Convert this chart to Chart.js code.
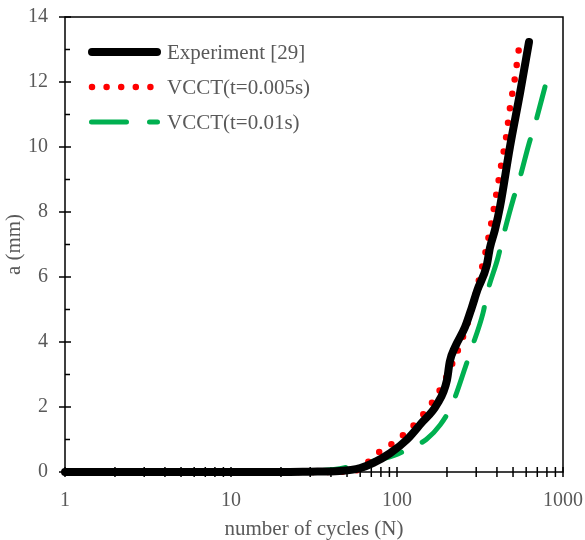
<!DOCTYPE html>
<html>
<head>
<meta charset="utf-8">
<script src="https://cdn.jsdelivr.net/npm/chart.js@4"></script>
<style>
  html, body { margin: 0; padding: 0; background: #fff; }
  #wrap { width: 585px; height: 540px; }
</style>
</head>
<body>
<div id="wrap"><canvas id="c"></canvas></div>
<script>
// experiment [29]
const expN = [1, 10, 20, 30, 45, 60, 72, 91, 115, 140, 174, 200, 208, 224, 257, 283, 305, 347, 363, 389, 417, 479, 551, 624];
const expA = [0, 0, 0, 0.01, 0.03, 0.12, 0.28, 0.58, 1.0, 1.5, 2.08, 2.83, 3.4, 3.85, 4.46, 5.08, 5.6, 6.35, 6.9, 7.45, 8.15, 10.0, 11.66, 13.23];

// VCCT t=0.005s
const v1N = [1, 5, 10, 20, 40, 51, 62, 72, 86, 101, 118, 136, 156, 174, 192, 211, 246, 279, 308, 339, 368, 395, 423, 454, 479, 514, 543];
const v1A = [0, 0, 0, 0, 0, 0.02, 0.13, 0.49, 0.74, 1.0, 1.29, 1.63, 2.0, 2.37, 2.77, 3.23, 4.06, 4.92, 5.8, 6.7, 7.6, 8.5, 9.4, 10.3, 11.2, 12.15, 13.05];

// VCCT t=0.01s
const v2N = [1, 10, 20, 30, 45, 57, 97, 123, 150, 182, 214, 257, 279, 330, 349, 406, 435, 500, 543, 624, 678, 779];
const v2A = [0, 0, 0, 0.02, 0.1, 0.22, 0.52, 0.77, 1.0, 1.45, 2.06, 3.2, 3.75, 4.9, 5.5, 6.6, 7.23, 8.37, 8.95, 10.1, 10.7, 11.85];

const seriesNames = ['Experiment [29]', 'VCCT(t=0.005s)', 'VCCT(t=0.01s)'];
const xLabelTicks = [1, 10, 100, 1000];
const yTicks = [0, 2, 4, 6, 8, 10, 12, 14];

const pts = (xs, ys) => xs.map((v, i) => ({ x: v, y: ys[i] }));
const FONT = "'Liberation Serif', 'Times New Roman', serif";
const GREY = '#595959';

// axis frame and tick marks (crossing / inward like Excel)
const axisTicks = {
  id: 'axisTicks',
  beforeDatasetsDraw(chart) {
    const { ctx, chartArea: a, scales: { x, y } } = chart;
    ctx.save();
    ctx.strokeStyle = '#000';
    ctx.lineWidth = 1.5;
    ctx.strokeRect(a.left, a.top, a.right - a.left, a.bottom - a.top);
    ctx.beginPath();
    yTicks.forEach(v => {
      const p = y.getPixelForValue(v);
      ctx.moveTo(a.left - 6, p); ctx.lineTo(a.left + 6, p);
      if (v < 14) {
        const q = y.getPixelForValue(v + 1);
        ctx.moveTo(a.left, q); ctx.lineTo(a.left + 5, q);
      }
    });
    for (let d = 1; d < 1000; d *= 10) {
      for (let k = 1; k <= 10; k++) {
        const p = x.getPixelForValue(d * k);
        ctx.moveTo(p, a.bottom - 5); ctx.lineTo(p, a.bottom + 5);
      }
    }
    ctx.stroke();
    ctx.restore();
  }
};

// legend inside the plot
const innerLegend = {
  id: 'innerLegend',
  afterDraw(chart) {
    const { ctx } = chart;
    const rows = [52, 87, 122];
    ctx.save();
    ctx.lineCap = 'round';
    chart.data.datasets.forEach((ds, i) => {
      const yy = rows[i];
      ctx.beginPath();
      ctx.strokeStyle = ds.borderColor;
      ctx.lineWidth = ds.borderWidth;
      ctx.setLineDash(ds.borderDash || []);
      if (i === 1) { ctx.moveTo(92, yy); ctx.lineTo(152, yy); }
      else if (i === 2) { ctx.moveTo(91.5, yy); ctx.lineTo(157.5, yy); }
      else { ctx.moveTo(92, yy); ctx.lineTo(157, yy); }
      ctx.stroke();
      ctx.setLineDash([]);
      ctx.fillStyle = GREY;
      ctx.font = '21px ' + FONT;
      ctx.textBaseline = 'middle';
      ctx.fillText(ds.label, 167, yy + 1);
    });
    ctx.restore();
  }
};

new Chart(document.getElementById('c'), {
  type: 'line',
  data: {
    datasets: [
      {
        label: seriesNames[0],
        data: pts(expN, expA),
        borderColor: '#000000',
        borderWidth: 8,
        borderCapStyle: 'round',
        borderJoinStyle: 'round',
        pointRadius: 0,
        cubicInterpolationMode: 'monotone',
        clip: false
      },
      {
        label: seriesNames[1],
        data: pts(v1N, v1A),
        borderColor: '#ff0000',
        borderWidth: 6.5,
        borderDash: [0, 14.6],
        borderCapStyle: 'round',
        pointRadius: 0,
        cubicInterpolationMode: 'monotone',
        clip: false
      },
      {
        label: seriesNames[2],
        data: pts(v2N, v2A),
        borderColor: '#00b050',
        borderWidth: 5,
        borderDash: [35, 23],
        borderDashOffset: 44,
        borderCapStyle: 'round',
        pointRadius: 0,
        cubicInterpolationMode: 'monotone',
        clip: false
      }
    ]
  },
  options: {
    responsive: true,
    maintainAspectRatio: false,
    animation: false,
    layout: { padding: { top: 17, right: 22, left: 0, bottom: 0 } },
    plugins: {
      legend: { display: false },
      tooltip: { enabled: false }
    },
    scales: {
      x: {
        type: 'logarithmic',
        min: 1,
        max: 1000,
        grid: { display: false, drawTicks: false },
        border: { display: false },
        afterFit(s) { s.height = 68; s.paddingLeft = 0; s.paddingRight = 0; },
        afterBuildTicks(s) { s.ticks = xLabelTicks.map(v => ({ value: v })); },
        ticks: {
          autoSkip: false,
          maxRotation: 0,
          padding: 17,
          color: GREY,
          font: { family: FONT, size: 20 },
          callback: v => String(v)
        },
        title: {
          display: true,
          text: 'number of cycles (N)',
          color: GREY,
          font: { family: FONT, size: 21, lineHeight: 1 },
          padding: { top: 0, bottom: 0 }
        }
      },
      y: {
        min: 0,
        max: 14,
        grid: { display: false, drawTicks: false },
        border: { display: false },
        afterFit(s) { s.width = 65; s.paddingTop = 0; s.paddingBottom = 0; },
        afterBuildTicks(s) { s.ticks = yTicks.map(v => ({ value: v })); },
        ticks: {
          padding: 17,
          color: GREY,
          font: { family: FONT, size: 20 }
        },
        title: {
          display: true,
          text: 'a (mm)',
          color: GREY,
          font: { family: FONT, size: 21 },
          padding: { top: 2, bottom: 0 }
        }
      }
    }
  },
  plugins: [axisTicks, innerLegend]
});
</script>
</body>
</html>
